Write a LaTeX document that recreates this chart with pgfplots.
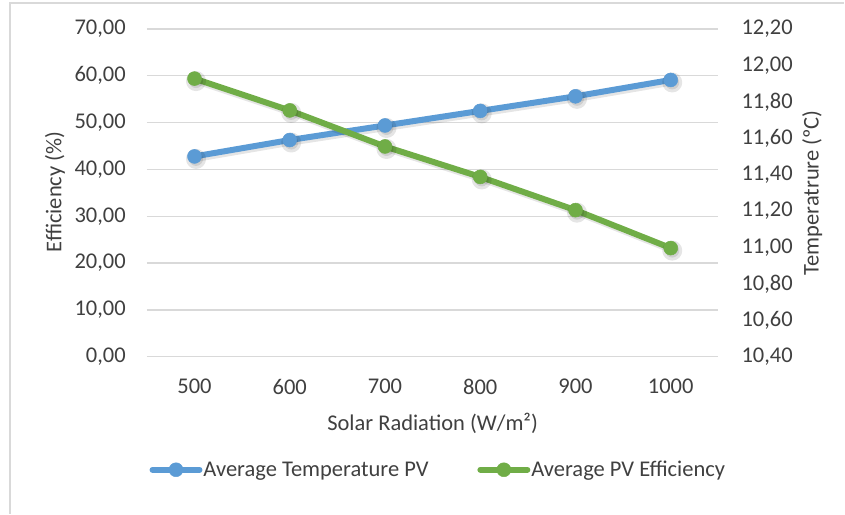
\documentclass[border=0pt]{standalone}
\usepackage{fontspec}
\setmainfont{Carlito}
\usepackage{pgfplots}
\pgfplotsset{compat=1.18}
\definecolor{tblue}{HTML}{5B9BD5}
\definecolor{tgreen}{HTML}{70AD47}
\definecolor{gridc}{HTML}{D9D9D9}
\definecolor{txt}{HTML}{404040}
\begin{document}
\begin{tikzpicture}
\path (0,0) rectangle (845pt,514pt);
\draw[gridc, line width=1.5pt] (10pt,0) -- (10pt,511pt) -- (845pt,511pt);
\pgfplotsset{
  common/.style={
    at={(147pt,157pt)}, anchor=south west,
    scale only axis, width=572pt, height=328pt,
    xmin=-0.5, xmax=5.5,
    font=\fontsize{22.5}{27}\selectfont,
    tick style={draw=none},
    major tick length=0pt,
    /pgf/number format/fixed,
    /pgf/number format/fixed zerofill,
    /pgf/number format/precision=2,
    /pgf/number format/use comma,
    /pgf/number format/assume math mode=true,
    every tick label/.append style={text=txt, inner sep=0pt},
    label style={text=txt, inner sep=0pt},
  },
  blueline/.style={tblue, line width=6pt, line cap=round, line join=round, mark=*, mark size=7pt, mark options={solid, fill=tblue, draw=tblue, line width=0.5pt}},
  greenline/.style={tgreen, line width=6pt, line cap=round, line join=round, mark=*, mark size=7pt, mark options={solid, fill=tgreen, draw=tgreen, line width=0.5pt}},
  shadowline/.style={black, opacity=0.1, line width=6pt, line cap=round, line join=round, mark=*, mark size=7pt, mark options={solid, fill=black, draw=none}, xshift=1.5pt, yshift=-2.5pt, forget plot},
}
% left frame: grid, x axis, left ticks and labels
\begin{axis}[common,
  ymin=0, ymax=70,
  ytick={0,10,20,30,40,50,60,70},
  axis x line*=bottom,
  axis y line*=left,
  y axis line style={draw=none},
  x axis line style={gridc, line width=1.3pt, -},
  ymajorgrids,
  grid style={gridc, line width=1.3pt},
  xtick={0,1,2,3,4,5},
  xticklabels={500,600,700,800,900,1000},
  xticklabel style={anchor=center, yshift=-30pt},
  yticklabel style={anchor=east, xshift=-21pt},
  xlabel={Solar Radiation (W/m²)},
  xlabel style={at={(axis description cs:0.5,-0.204)}, anchor=center},
  ylabel={Efficiency (\%)},
  ylabel style={at={(axis description cs:-0.161,0.503)}, anchor=center},
]
\end{axis}
% right axis: temperature
\begin{axis}[common,
  ymin=10.4, ymax=12.2,
  ytick={10.4,10.6,10.8,11.0,11.2,11.4,11.6,11.8,12.0,12.2},
  hide x axis,
  axis y line*=right,
  y axis line style={draw=none},
  yticklabel style={anchor=west, xshift=23pt},
  ylabel={Temperatrure (ºC)},
  ylabel style={at={(axis description cs:1.164,0.5)}, anchor=center},
]
\addplot[shadowline] coordinates {(0,11.50) (1,11.59) (2,11.67) (3,11.75) (4,11.83) (5,11.92)};
\addplot[blueline] coordinates {(0,11.50) (1,11.59) (2,11.67) (3,11.75) (4,11.83) (5,11.92)};
\end{axis}
% efficiency series on the left scale, drawn on top
\begin{axis}[common,
  ymin=0, ymax=70,
  hide axis,
  legend columns=2,
  legend image code/.code={\draw[#1, mark repeat=2, mark phase=2] plot coordinates {(0pt,0pt) (23.5pt,0pt) (47pt,0pt)};},
  legend style={at={(axis description cs:0.509,-0.345)}, anchor=center, draw=none, fill=none,
    font=\fontsize{22.5}{27}\selectfont, text=txt,
    nodes={inner sep=1pt},
    /tikz/every even column/.append style={column sep=48pt}},
]
\addlegendimage{blueline}
\addlegendentry{Average Temperature PV}
\addplot[shadowline] coordinates {(0,59.4) (1,52.6) (2,44.9) (3,38.4) (4,31.3) (5,23.2)};
\addplot[greenline] coordinates {(0,59.4) (1,52.6) (2,44.9) (3,38.4) (4,31.3) (5,23.2)};
\addlegendentry{Average PV Efficiency}
\end{axis}
\end{tikzpicture}
\end{document}
